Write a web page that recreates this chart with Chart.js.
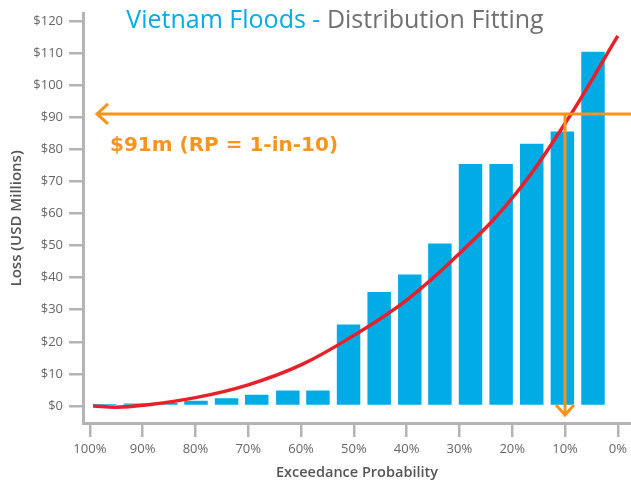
<!DOCTYPE html>
<html>
<head>
<meta charset="utf-8">
<script src="https://cdn.jsdelivr.net/npm/chart.js@4.4.0/dist/chart.umd.min.js"></script>
<style>
  html, body { margin: 0; padding: 0; background: #fff; }
  canvas { display: block; }
</style>
</head>
<body>
<canvas id="lossChart" width="631" height="482"></canvas>
<script>
'use strict'

// observed annual losses, plotted at their exceedance probability (%)
var exceedance = [97.2, 91.4, 85.6, 79.9, 74.1, 68.4, 62.5, 56.8, 51.0, 45.2, 39.4, 33.7, 27.9, 22.1, 16.3, 10.5, 4.7];
var losses = [0.6, 0.8, 1.0, 1.6, 2.4, 3.5, 4.8, 4.8, 25.4, 35.5, 41.0, 50.6, 75.4, 75.4, 81.7, 85.5, 110.4];

// fitted distribution
var fitProb = [99.4, 95, 90, 80, 70, 60, 50, 40, 30, 20, 10, 0];
var fitLoss = [0.0, -0.4, 0.2, 2.6, 6.6, 12.8, 22.0, 33.0, 47.5, 64.8, 88.0, 115.3];

var yTicks = [0, 10, 20, 30, 40, 50, 60, 70, 80, 90, 100, 110, 120];
var xTicks = [100, 90, 80, 70, 60, 50, 40, 30, 20, 10, 0];

// 1-in-10 return period
var rpProb = 10;
var rpLoss = 91;
var rpLabel = '$91m (RP = 1-in-10)';

var BLUE = '#00abe6';
var ORANGE = '#f7941d';
var AXIS = '#b4b4b4';

var overlay = {
    id: 'overlay',
    afterDatasetsDraw: function (chart) {
        var ctx = chart.ctx;
        var area = chart.chartArea;
        var x = chart.scales.x.getPixelForValue(rpProb);
        var y = chart.scales.y.getPixelForValue(rpLoss);
        var tipX = area.left + 14;
        var tipY = area.bottom - 8;

        ctx.save();
        ctx.strokeStyle = ORANGE;
        ctx.lineWidth = 3;

        // across to the loss axis
        ctx.beginPath();
        ctx.moveTo(area.right, y);
        ctx.lineTo(tipX, y);
        ctx.moveTo(tipX + 11, y - 10);
        ctx.lineTo(tipX, y);
        ctx.lineTo(tipX + 11, y + 10);
        ctx.stroke();

        // down to the probability axis
        ctx.beginPath();
        ctx.moveTo(x, y);
        ctx.lineTo(x, tipY);
        ctx.moveTo(x - 9, tipY - 10);
        ctx.lineTo(x, tipY);
        ctx.lineTo(x + 9, tipY - 10);
        ctx.stroke();

        ctx.fillStyle = ORANGE;
        ctx.font = 'bold 20px "DejaVu Sans"';
        ctx.textBaseline = 'alphabetic';
        ctx.fillText(rpLabel, area.left + 27, y + 37);
        ctx.restore();
    },
    afterDraw: function (chart) {
        var ctx = chart.ctx;
        var first = 'Vietnam Floods - ';
        var second = 'Distribution Fitting';
        ctx.save();
        ctx.font = '25px "Open Sans"';
        ctx.textBaseline = 'alphabetic';
        var w1 = ctx.measureText(first).width;
        var w2 = ctx.measureText(second).width;
        var left = 335 - (w1 + w2) / 2;
        ctx.fillStyle = BLUE;
        ctx.fillText(first, left, 28);
        ctx.fillStyle = '#707070';
        ctx.fillText(second, left + w1, 28);
        ctx.restore();
    }
};

var ctx = document.getElementById('lossChart').getContext('2d');
var lossChart = new Chart(ctx, {
    type: 'bar',
    data: {
        datasets: [{
            type: 'line',
            label: 'Fitted',
            data: fitProb.map(function (p, i) { return { x: p, y: fitLoss[i] }; }),
            borderColor: '#e8202a',
            borderWidth: 3.5,
            pointRadius: 0,
            fill: false,
            tension: 0.4,
            order: 0
        }, {
            label: 'Loss',
            data: exceedance.map(function (p, i) { return { x: p, y: losses[i] }; }),
            backgroundColor: BLUE,
            borderWidth: 0,
            barPercentage: 0.78,
            categoryPercentage: 1,
            order: 1
        }]
    },
    options: {
        responsive: false,
        animation: false,
        devicePixelRatio: 1,
        layout: { padding: { top: 13, right: 0, bottom: 0, left: 0 } },
        plugins: {
            legend: { display: false },
            tooltip: { enabled: false }
        },
        scales: {
            x: {
                type: 'linear',
                reverse: true,
                offset: false,
                min: -2.5,
                max: 101.3,
                afterBuildTicks: function (scale) {
                    scale.ticks = xTicks.map(function (v) { return { value: v }; });
                },
                afterFit: function (scale) { scale.height = 59; },
                ticks: {
                    padding: 4,
                    color: '#666',
                    font: { family: 'Open Sans', size: 13 },
                    callback: function (v) { return v + '%'; }
                },
                grid: { offset: false, drawOnChartArea: false, drawTicks: true, tickLength: 14, color: AXIS, lineWidth: 2.5 },
                border: { display: true, color: AXIS, width: 3 },
                title: {
                    display: true,
                    text: 'Exceedance Probability',
                    color: '#555',
                    font: { family: 'Open Sans', size: 14.5, weight: '600' },
                    padding: 0
                }
            },
            y: {
                min: -5.3,
                max: 122.2,
                afterBuildTicks: function (scale) {
                    scale.ticks = yTicks.map(function (v) { return { value: v }; });
                },
                afterFit: function (scale) { scale.width = 83; },
                ticks: {
                    padding: 6,
                    color: '#666',
                    font: { family: 'Open Sans', size: 13 },
                    callback: function (v) { return '$' + v; }
                },
                grid: { drawOnChartArea: false, drawTicks: true, tickLength: 14, color: AXIS, lineWidth: 2.5 },
                border: { display: true, color: AXIS, width: 3 },
                title: {
                    display: true,
                    text: 'Loss (USD Millions)',
                    color: '#555',
                    font: { family: 'Open Sans', size: 15, weight: '600' },
                    padding: { top: 8, bottom: 0 }
                }
            }
        }
    },
    plugins: [overlay]
});
</script>
</body>
</html>
